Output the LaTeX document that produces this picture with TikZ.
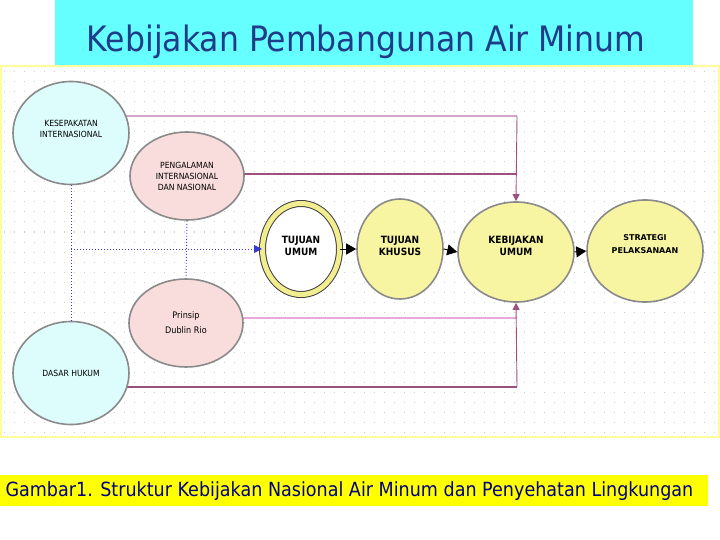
\documentclass[tikz,border=0pt]{standalone}
\usepackage{fontspec}
\setmainfont{DejaVu Sans}
\newfontfamily\titlef[FakeStretch=0.9]{DejaVu Sans}
\newfontfamily\smallf[FakeStretch=0.9]{DejaVu Sans}
\usetikzlibrary{shapes.geometric,arrows.meta,backgrounds}
\pgfdeclarelayer{panel}
\pgfsetlayers{panel,background,main}
\definecolor{titlecyan}{HTML}{66FFFF}
\definecolor{titleblue}{HTML}{1F3C88}
\definecolor{capyellow}{HTML}{FFFF00}
\definecolor{capblue}{HTML}{000080}
\definecolor{nodecyan}{HTML}{DDFCFC}
\definecolor{nodepink}{HTML}{F9DCDC}
\definecolor{nodeyellow}{HTML}{F8F5A2}
\definecolor{ringyellow}{HTML}{F2EE90}
\definecolor{nodeborder}{HTML}{8A8A8A}
\definecolor{lineA}{HTML}{D4A6C8}
\definecolor{lineB}{HTML}{A0507F}
\definecolor{lineC}{HTML}{E8A9DA}
\definecolor{lineD}{HTML}{9A4E80}
\definecolor{arrowm}{HTML}{A23E78}
\definecolor{dotblue}{HTML}{3A3ACC}
\definecolor{panelborder}{HTML}{FFFF99}
\definecolor{griddot}{HTML}{CFCFCF}
\tikzset{
  ell/.style={ellipse, draw=nodeborder, line width=1.6pt, inner sep=0pt, align=center,
    font=\smallf\fontsize{8.5}{11}\selectfont},
  cyanell/.style={ell, fill=nodecyan, minimum width=116pt, minimum height=103pt},
  pinkell/.style={ell, fill=nodepink, minimum width=114pt, minimum height=88pt},
  yellell/.style={ell, fill=nodeyellow},
  magarrow/.style={-{Triangle[length=7pt,width=7pt]}, color=lineB, line width=0.9pt},
  blkarrow/.style={-{Triangle[length=10pt,width=11pt]}, black, line width=1pt},
  bluedot/.style={dotblue, line width=0.9pt, dash pattern=on 1pt off 2pt},
}
\begin{document}
\begin{tikzpicture}[x=1pt,y=-1pt]
\useasboundingbox (0,0) rectangle (720,540);
% panel
\begin{pgfonlayer}{panel}
  \fill[white] (0,0) rectangle (720,540);
  \fill[white] (0,66) rectangle (720,438);
  \foreach \yy in {72,82,...,432}
    \draw[griddot, line width=1pt, dash pattern=on 1pt off 9pt] (4,\yy) -- (718,\yy);
  \draw[panelborder, line width=2pt] (1,66) rectangle (719,437);
\end{pgfonlayer}
% title
\fill[titlecyan] (55,0) rectangle (693,65);
\node[text=titleblue, font=\titlef\fontsize{35}{40}\selectfont] (title) at (366,42) {Kebijakan Pembangunan Air Minum};
% caption
\fill[capyellow] (0,475) rectangle (708,506);
\node[anchor=west, text=capblue, font=\titlef\fontsize{19.5}{23}\selectfont] (cap) at (2,491) {Gambar1. Struktur Kebijakan Nasional Air Minum dan Penyehatan Lingkungan};

% nodes
\node[cyanell] (kes) at (71,133) {KESEPAKATAN\\INTERNASIONAL\\[-2pt]};
\node[pinkell] (peng) at (187,176) {PENGALAMAN\\INTERNASIONAL\\DAN NASIONAL};
\node[pinkell, font=\smallf\fontsize{9}{11}\selectfont] (prin) at (186,323) {Prinsip\\[4pt]Dublin Rio};
\node[cyanell] (dasar) at (71,373) {DASAR HUKUM};
\node[ellipse, draw=black!75, line width=1pt, double=ringyellow, double distance=5pt, fill=white,
      minimum width=77pt, minimum height=91pt, inner sep=0pt, align=center,
      font=\smallf\bfseries\fontsize{10}{12.5}\selectfont] (tu) at (301,249) {TUJUAN\\UMUM\\[-6pt]};
\node[yellell, minimum width=86pt, minimum height=100pt, font=\smallf\bfseries\fontsize{10}{12.5}\selectfont] (tk) at (400,249) {TUJUAN\\KHUSUS\\[-6pt]};
\node[yellell, minimum width=116pt, minimum height=100pt, font=\smallf\bfseries\fontsize{10}{12}\selectfont] (keb) at (516,252) {KEBIJAKAN\\UMUM\\[0pt]};
\node[yellell, minimum width=116pt, minimum height=102pt, font=\bfseries\fontsize{8}{13}\selectfont] (str) at (645,251) {STRATEGI\\PELAKSANAAN\\[0pt]};

% junction coordinates
\coordinate (j1) at (517,116);
\coordinate (j2) at (517,174);
\coordinate (j3) at (517,318);
\coordinate (j4) at (517,387);

\begin{pgfonlayer}{background}
  \draw[lineA, line width=2.2pt] (kes.center |- j1) -- (j1);
  \draw[lineB, line width=2pt] (peng.center |- j2) -- (j2);
  \draw[lineC, line width=1.6pt] (prin.center |- j3) -- (j3);
  \draw[lineD, line width=1.3pt] (dasar.center |- j4) -- (j4);
\end{pgfonlayer}
\draw[magarrow] (j1) -- (keb.north);
\draw[magarrow] (j4) -- (keb.south);

% blue dotted
\draw[bluedot] (kes.south) -- (dasar.north);
\draw[bluedot] (peng.south) -- (prin.north);
\draw[bluedot, -{Triangle[length=8pt,width=8pt]}] (kes.south |- tu.west) -- (tu.west);

% black arrows
\draw[blkarrow] (tu.east) -- (tk.west);
\draw[blkarrow] (tk.east) -- (keb.west);
\draw[blkarrow] (keb.east) -- (str.west);
\end{tikzpicture}
\end{document}
